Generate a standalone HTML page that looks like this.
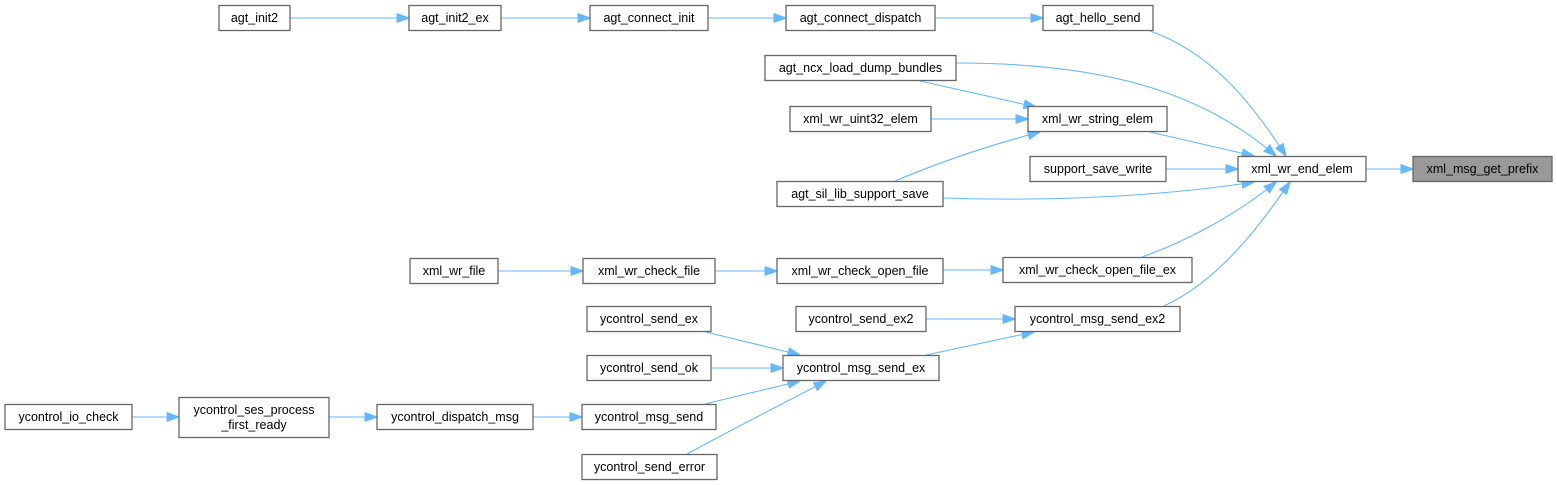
<!DOCTYPE html>
<html><head><meta charset="utf-8"><style>
html,body{margin:0;padding:0;background:#fff;}
svg{display:block;}
text{font-family:"Liberation Sans",Arial,sans-serif;font-size:12.5px;fill:#000;}
.b{fill:#fff;stroke:#666;stroke-width:1.3;}
.e{fill:none;stroke:#63b8ff;stroke-width:1.1;}
</style></head><body>
<svg width="1557" height="485" viewBox="0 0 1557 485" xmlns="http://www.w3.org/2000/svg">
<defs><marker id="a" markerWidth="13" markerHeight="10" refX="12.5" refY="5" orient="auto" markerUnits="userSpaceOnUse"><path d="M0,0.5 L13,5 L0,9.5 z" fill="#63b8ff" stroke="#63b8ff"/></marker></defs>
<g marker-end="url(#a)">
<path class="e" d="M290,18 H409"/>
<path class="e" d="M501,18 H590"/>
<path class="e" d="M708,18 H786"/>
<path class="e" d="M935,18 H1043"/>
<path class="e" d="M1150,31 C1210,52 1250,100 1286,156"/>
<path class="e" d="M956,63 C1100,63 1200,90 1276,156"/>
<path class="e" d="M920,81 L1036,107"/>
<path class="e" d="M931,119 H1028"/>
<path class="e" d="M895,181 C940,162 990,145 1040,132"/>
<path class="e" d="M1150,132 L1254,156"/>
<path class="e" d="M1166,169 H1238"/>
<path class="e" d="M943,198 C1060,202 1170,195 1254,182"/>
<path class="e" d="M1366,169 H1413"/>
<path class="e" d="M1142,257 C1190,240 1240,212 1276,182"/>
<path class="e" d="M1164,306 C1220,280 1260,225 1290,182"/>
<path class="e" d="M498,271 H583"/>
<path class="e" d="M715,271 H777"/>
<path class="e" d="M943,270 H1003"/>
<path class="e" d="M926,319 H1015"/>
<path class="e" d="M926,355 L1034,332"/>
<path class="e" d="M706,332 L800,355"/>
<path class="e" d="M711,368 H783"/>
<path class="e" d="M705,404 L800,381"/>
<path class="e" d="M687,454 C740,425 790,400 826,381"/>
<path class="e" d="M132,417 H179"/>
<path class="e" d="M329,417 H377"/>
<path class="e" d="M533,417 H582"/>
</g>
<g>
<rect class="b" x="219" y="5.5" width="71" height="25"/><text x="254.5" y="22" text-anchor="middle">agt_init2</text>
<rect class="b" x="409" y="5.5" width="92" height="25"/><text x="455" y="22" text-anchor="middle">agt_init2_ex</text>
<rect class="b" x="590" y="5.5" width="118" height="25"/><text x="649" y="22" text-anchor="middle">agt_connect_init</text>
<rect class="b" x="786" y="5.5" width="149" height="25"/><text x="860.5" y="22" text-anchor="middle">agt_connect_dispatch</text>
<rect class="b" x="1043" y="5.5" width="110" height="25"/><text x="1098" y="22" text-anchor="middle">agt_hello_send</text>
<rect class="b" x="765" y="55.5" width="191" height="25"/><text x="860.5" y="72" text-anchor="middle">agt_ncx_load_dump_bundles</text>
<rect class="b" x="790" y="106.5" width="141" height="25"/><text x="860.5" y="123" text-anchor="middle">xml_wr_uint32_elem</text>
<rect class="b" x="1028" y="106.5" width="139" height="25"/><text x="1097.5" y="123" text-anchor="middle">xml_wr_string_elem</text>
<rect class="b" x="1030" y="156.5" width="136" height="25"/><text x="1098" y="173" text-anchor="middle">support_save_write</text>
<rect class="b" x="1238" y="156.5" width="128" height="25"/><text x="1302" y="173" text-anchor="middle">xml_wr_end_elem</text>
<rect x="1413" y="156.5" width="139" height="25" fill="#999" stroke="#666" stroke-width="1.3"/><text x="1482.5" y="173" text-anchor="middle">xml_msg_get_prefix</text>
<rect class="b" x="777" y="181.5" width="166" height="25"/><text x="860" y="198" text-anchor="middle">agt_sil_lib_support_save</text>
<rect class="b" x="410" y="258.5" width="88" height="25"/><text x="454" y="275" text-anchor="middle">xml_wr_file</text>
<rect class="b" x="583" y="258.5" width="132" height="25"/><text x="649" y="275" text-anchor="middle">xml_wr_check_file</text>
<rect class="b" x="777" y="258.5" width="166" height="25"/><text x="860" y="275" text-anchor="middle">xml_wr_check_open_file</text>
<rect class="b" x="1003" y="257.5" width="189" height="25"/><text x="1097.5" y="274" text-anchor="middle">xml_wr_check_open_file_ex</text>
<rect class="b" x="587" y="306.5" width="124" height="25"/><text x="649" y="323" text-anchor="middle">ycontrol_send_ex</text>
<rect class="b" x="796" y="306.5" width="130" height="25"/><text x="861" y="323" text-anchor="middle">ycontrol_send_ex2</text>
<rect class="b" x="1015" y="306.5" width="165" height="25"/><text x="1097.5" y="323" text-anchor="middle">ycontrol_msg_send_ex2</text>
<rect class="b" x="587" y="355.5" width="124" height="25"/><text x="649" y="372" text-anchor="middle">ycontrol_send_ok</text>
<rect class="b" x="783" y="355.5" width="156" height="25"/><text x="861" y="372" text-anchor="middle">ycontrol_msg_send_ex</text>
<rect class="b" x="5" y="404.5" width="127" height="25"/><text x="68.5" y="421" text-anchor="middle">ycontrol_io_check</text>
<rect class="b" x="179" y="397.5" width="150" height="40"/><text x="254" y="414" text-anchor="middle">ycontrol_ses_process</text><text x="254" y="429" text-anchor="middle">_first_ready</text>
<rect class="b" x="377" y="404.5" width="156" height="25"/><text x="455" y="421" text-anchor="middle">ycontrol_dispatch_msg</text>
<rect class="b" x="582" y="404.5" width="134" height="25"/><text x="649" y="421" text-anchor="middle">ycontrol_msg_send</text>
<rect class="b" x="582" y="454.5" width="135" height="25"/><text x="649.5" y="471" text-anchor="middle">ycontrol_send_error</text>
</g>
</svg>
</body></html>
